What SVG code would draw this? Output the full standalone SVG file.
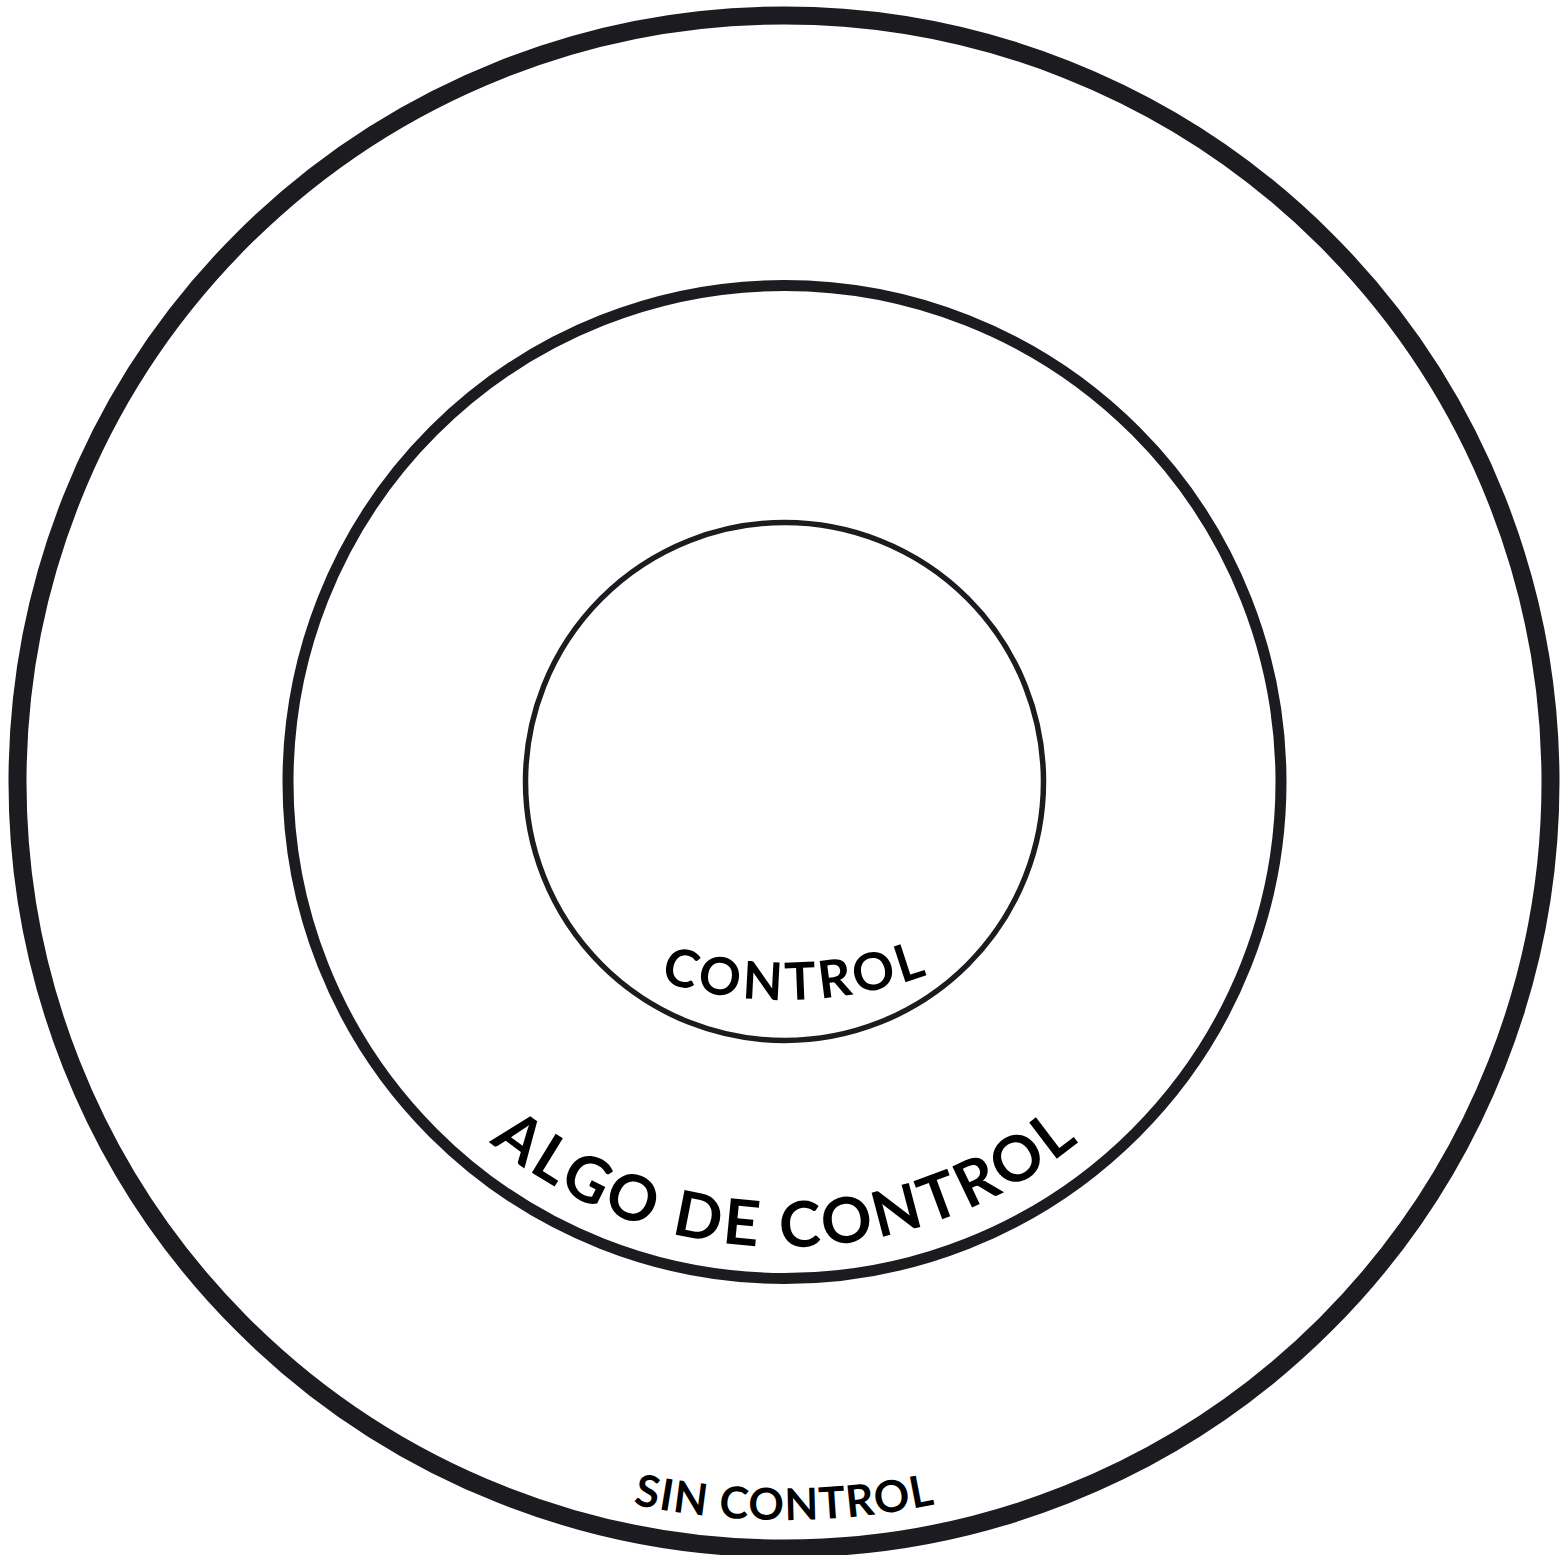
<svg xmlns="http://www.w3.org/2000/svg" width="1565" height="1555" viewBox="0 0 1565 1555">
  <style>
    .ring { fill: none; stroke: #1c1b20; }
    .lbl { font-family: "Lato", "Open Sans", "DejaVu Sans", sans-serif; font-weight: 700; fill: #000; text-anchor: middle; }
  </style>
  <defs>
    <path id="arcOuter" d="M 46 782 A 738 738 0 0 0 1522 782"/>
    <path id="arcMiddle" d="M 319 782 A 465 465 0 0 0 1249 782"/>
    <path id="arcInner" d="M 364 580 A 420 420 0 0 0 1204 580"/>
  </defs>
  <rect width="1565" height="1555" fill="#fff"/>
  <g id="sin-control">
    <circle class="ring" cx="784" cy="782" r="766.5" stroke-width="18"/>
    <text class="lbl" font-size="44"><textPath href="#arcOuter" startOffset="50%" textLength="304" lengthAdjust="spacing">SIN CONTROL</textPath></text>
  </g>
  <g id="algo-de-control">
    <circle class="ring" cx="784.5" cy="782" r="496.5" stroke-width="11"/>
    <text class="lbl" font-size="63"><textPath href="#arcMiddle" startOffset="50%" textLength="638" lengthAdjust="spacing">ALGO DE CONTROL</textPath></text>
  </g>
  <g id="control">
    <circle class="ring" cx="784.5" cy="781.5" r="259" stroke-width="5.5"/>
    <text class="lbl" font-size="52"><textPath href="#arcInner" startOffset="669.7" textLength="272" lengthAdjust="spacing">CONTROL</textPath></text>
  </g>
  <g id="connectors"/>
</svg>
